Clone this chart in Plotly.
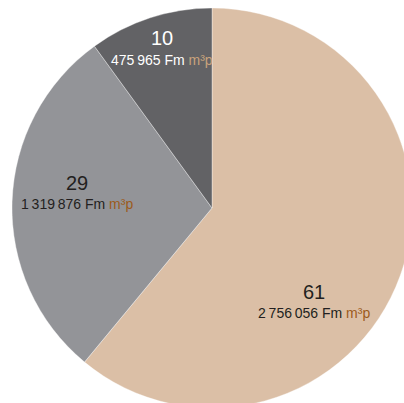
import plotly.graph_objects as go

# Data
categories = ["A", "B", "C"]
percent = [61, 29, 10]
volumes = [2756056, 1319876, 475965]
unit = "Fm"
unit_suffix = "m³p"

# Styles
slice_colors = ["#DBBFA6", "#939498", "#626265"]
number_colors = ["#231F20", "#231F20", "#FFFFFF"]
suffix_colors = ["#9C5B1C", "#9C5B1C", "#C9A27C"]
FONT = "Liberation Sans, Arial, sans-serif"

W, H = 412, 408
ML, MT = 12, 8
PLOT = 400

# label anchor positions in pixels (center x, center y of number, center y of sub line)
label_px = [(314, 292, 313), (77, 183, 204), (162, 38, 60)]


def fmt(v):
    return f"{v:,}".replace(",", "\u2009")


def to_paper(px, py):
    return (px - ML) / PLOT, 1 - (py - MT) / PLOT


fig = go.Figure(
    go.Pie(
        labels=categories,
        values=percent,
        sort=False,
        direction="clockwise",
        rotation=0,
        marker=dict(colors=slice_colors, line=dict(color="rgba(255,255,255,0.6)", width=0.6)),
        textinfo="none",
        hoverinfo="skip",
        showlegend=False,
    )
)

annotations = []
for i in range(len(percent)):
    px, py1, py2 = label_px[i]
    x1, y1 = to_paper(px, py1)
    x2, y2 = to_paper(px, py2)
    annotations.append(dict(
        x=x1, y=y1, xref="paper", yref="paper", showarrow=False,
        text=str(percent[i]), font=dict(family=FONT, size=20, color=number_colors[i]),
        xanchor="center", yanchor="middle",
    ))
    annotations.append(dict(
        x=x2, y=y2, xref="paper", yref="paper", showarrow=False,
        text=f"{fmt(volumes[i])} {unit} <span style='color:{suffix_colors[i]}'>{unit_suffix}</span>",
        font=dict(family=FONT, size=14, color=number_colors[i]),
        xanchor="center", yanchor="middle",
    ))

fig.update_layout(
    width=W, height=H, autosize=False,
    margin=dict(l=ML, r=0, t=MT, b=0, pad=0),
    paper_bgcolor="white", plot_bgcolor="white",
    annotations=annotations,
)

fig.write_html(
    "out.html",
    config={"displayModeBar": False},
    post_script="document.body.style.margin='0';document.body.style.overflow='hidden';document.documentElement.style.overflow='hidden';",
)
